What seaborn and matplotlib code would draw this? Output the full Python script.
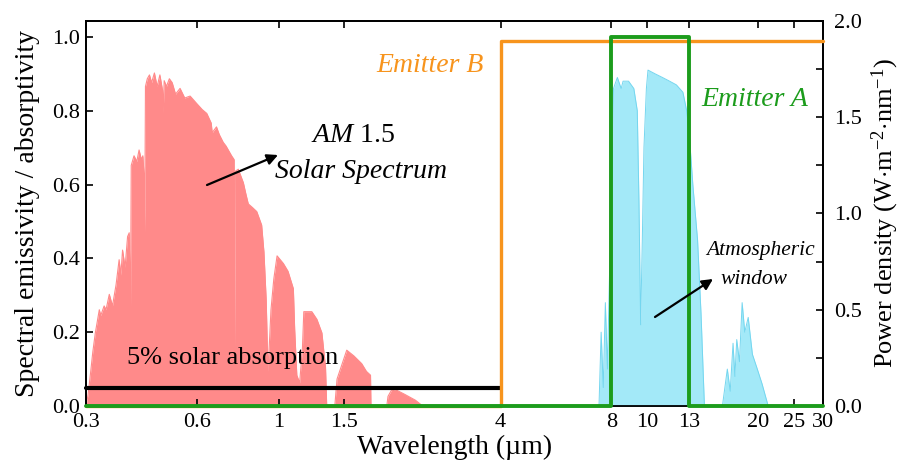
import numpy as np
import pandas as pd
import matplotlib
matplotlib.use("Agg")
import matplotlib.pyplot as plt
import seaborn as sns
from matplotlib.ticker import FixedLocator, FixedFormatter, NullLocator, MultipleLocator

# ---------------- data ----------------
# AM 1.5 solar spectrum: wavelength (um) and power density (W m^-2 nm^-1)
solar_wl = [0.300, 0.304, 0.309, 0.313, 0.318, 0.322, 0.326, 0.329, 0.336, 0.340,
            0.347, 0.354, 0.362, 0.369, 0.373, 0.377, 0.383, 0.389, 0.393, 0.396,
            0.398, 0.405, 0.412, 0.418, 0.424, 0.428, 0.431, 0.433, 0.435, 0.440,
            0.446, 0.452, 0.460, 0.468, 0.476, 0.484, 0.486, 0.489, 0.496, 0.505,
            0.514, 0.525, 0.540, 0.556, 0.575, 0.600, 0.620, 0.638, 0.656, 0.660,
            0.678, 0.690, 0.707, 0.720, 0.745, 0.757, 0.760, 0.763, 0.777, 0.802,
            0.815, 0.827, 0.850, 0.872, 0.899, 0.912, 0.925, 0.935, 0.945, 0.953,
            0.970, 0.990, 1.030, 1.060, 1.096, 1.105, 1.120, 1.140, 1.160, 1.170,
            1.230, 1.270, 1.310, 1.340, 1.350, 1.420, 1.440, 1.530, 1.600, 1.680,
            1.730, 1.775, 1.780, 1.965, 1.980, 2.030, 2.100, 2.200, 2.350, 2.460]
solar_pd = [0.00, 0.06, 0.18, 0.28, 0.38, 0.44, 0.50, 0.47, 0.52, 0.50,
            0.58, 0.52, 0.63, 0.76, 0.68, 0.81, 0.72, 0.88, 0.90, 0.43,
            1.25, 1.30, 1.27, 1.33, 1.28, 1.30, 1.20, 0.90, 1.66, 1.70,
            1.72, 1.68, 1.73, 1.66, 1.72, 1.64, 1.52, 1.69, 1.66, 1.70,
            1.68, 1.62, 1.65, 1.60, 1.61, 1.57, 1.54, 1.52, 1.47, 1.42,
            1.45, 1.41, 1.37, 1.35, 1.30, 1.28, 0.30, 1.22, 1.23, 1.16,
            1.10, 1.05, 1.03, 1.01, 0.94, 0.80, 0.55, 0.18, 0.35, 0.50,
            0.66, 0.78, 0.74, 0.70, 0.61, 0.40, 0.16, 0.12, 0.30, 0.49,
            0.49, 0.45, 0.38, 0.20, 0.00, 0.00, 0.14, 0.29, 0.26, 0.22,
            0.18, 0.16, 0.00, 0.00, 0.05, 0.087, 0.08, 0.06, 0.03, 0.00]

# Atmospheric transmittance (fraction) vs wavelength (um)
atm_wl = [7.40, 7.50, 7.60, 7.70, 7.80, 7.90, 8.00, 8.10, 8.30, 8.50, 8.60,
          8.90, 9.20, 9.40, 9.50, 9.60, 9.70, 9.80, 9.95, 10.05, 10.50, 11.00,
          11.50, 12.00, 12.50, 12.80, 13.00, 13.30, 13.70, 14.00, 14.30,
          16.00, 16.50, 16.80, 17.10, 17.30, 17.50, 17.80, 18.10, 18.40, 18.80,
          19.30, 19.90, 20.50, 21.30]
atm_tr = [0.00, 0.20, 0.05, 0.28, 0.10, 0.35, 0.50, 0.86, 0.89, 0.86, 0.88,
          0.88, 0.86, 0.80, 0.55, 0.22, 0.45, 0.70, 0.86, 0.91, 0.90, 0.89,
          0.88, 0.87, 0.85, 0.80, 0.74, 0.60, 0.45, 0.25, 0.00,
          0.00, 0.10, 0.04, 0.17, 0.08, 0.18, 0.12, 0.28, 0.20, 0.24,
          0.14, 0.10, 0.06, 0.00]

# Ideal emitters (emissivity) and 5% solar absorption level
emitterB_wl = [0.3, 4, 4, 30]
emitterB_em = [0.0, 0.0, 0.99, 0.99]
emitterA_wl = [0.3, 8, 8, 13, 13, 30]
emitterA_em = [0.0, 0.0, 1.0, 1.0, 0.0, 0.0]
absorb_wl = [0.3, 4]
absorb_val = [0.05, 0.05]

xtick_vals = [0.3, 0.6, 1, 1.5, 4, 8, 10, 13, 20, 25, 30]
xtick_labels = ["0.3", "0.6", "1", "1.5", "4", "8", "10", "13", "20", "25", "30"]
left_ticks = [0.0, 0.2, 0.4, 0.6, 0.8, 1.0]
right_ticks = [0.0, 0.5, 1.0, 1.5, 2.0]

# ---------------- style ----------------
sns.set_theme(style="ticks")
plt.rcParams['font.family'] = ['Liberation Serif', 'DejaVu Serif']
plt.rcParams['mathtext.fontset'] = 'custom'
plt.rcParams['mathtext.rm'] = 'Liberation Serif'
plt.rcParams['mathtext.it'] = 'Liberation Serif:italic'
for key in ("text.color", "axes.labelcolor", "xtick.color", "ytick.color",
            "axes.edgecolor"):
    plt.rcParams[key] = "black"

SALMON = "#ff8a8a"
CYAN = "#a3e9f8"
CYAN_EDGE = "#74d6ef"
ORANGE = "#f7941d"
GREEN = "#1c9c1c"

W, H = 903, 466
fig = plt.figure(figsize=(W / 100, H / 100), dpi=100)
L, R, T, B = 86, 823, 21, 406
ax = fig.add_axes([L / W, 1 - B / H, (R - L) / W, (B - T) / H])
ax2 = ax.twinx()
ax.set_zorder(ax2.get_zorder() + 1)
ax.patch.set_visible(False)

# solar spectrum on the right (power density) axis
solar_df = pd.DataFrame({"wl": solar_wl, "pd": solar_pd})
ax2.fill_between(solar_df["wl"], solar_df["pd"], color=SALMON, lw=0, zorder=1)
sns.lineplot(data=solar_df, x="wl", y="pd", ax=ax2, color=SALMON, lw=0.8,
             sort=False, estimator=None, zorder=2)

# atmospheric window on left axis
atm_df = pd.DataFrame({"wl": atm_wl, "tr": atm_tr})
ax.fill_between(atm_df["wl"], atm_df["tr"], color=CYAN, lw=0, zorder=1)
sns.lineplot(data=atm_df, x="wl", y="tr", ax=ax, color=CYAN_EDGE, lw=0.7,
             sort=False, estimator=None, zorder=2)

# lines
sns.lineplot(x=absorb_wl, y=absorb_val, ax=ax, color="black", lw=3.0,
             sort=False, estimator=None, zorder=3)
sns.lineplot(x=emitterB_wl, y=emitterB_em, ax=ax, color=ORANGE, lw=2.4,
             sort=False, estimator=None, zorder=4)
sns.lineplot(x=emitterA_wl, y=emitterA_em, ax=ax, color=GREEN, lw=2.8,
             sort=False, estimator=None, zorder=5)
for ln in ax.get_lines():
    ln.set_clip_on(False)

# axes
ax.set_xscale("log")
ax.set_xlim(0.3, 30)
ax.set_ylim(0, 1.043)
ax2.set_ylim(0, 2.0)
ax.xaxis.set_major_locator(FixedLocator(xtick_vals))
ax.xaxis.set_major_formatter(FixedFormatter(xtick_labels))
ax.xaxis.set_minor_locator(NullLocator())
ax.set_yticks(left_ticks)
ax.set_yticklabels([f"{v:.1f}" for v in left_ticks])
ax2.set_yticks(right_ticks)
ax2.set_yticklabels([f"{v:.1f}" for v in right_ticks])
ax2.yaxis.set_minor_locator(MultipleLocator(0.25))

ax.tick_params(axis="x", which="both", direction="in", top=True, bottom=True,
               length=5, width=1.2, labelsize=16, pad=5, colors="black")
ax.tick_params(axis="y", which="both", direction="in", left=True, right=False,
               length=5, width=1.2, labelsize=16, pad=4, colors="black")
ax2.tick_params(axis="y", which="both", direction="in", right=True, left=False,
                length=5, width=1.2, labelsize=16, pad=8, colors="black")
ax2.tick_params(axis="y", which="minor", length=5)

for a in (ax, ax2):
    for s in a.spines.values():
        s.set_linewidth(1.3)
        s.set_color("black")
        s.set_visible(True)

ax.set_xlabel("Wavelength (µm)", fontsize=20, color="black")
ax.xaxis.set_label_coords(0.5, -(447 - B) / (B - T))
ax.xaxis.label.set_va("center")
ax.set_ylabel("Spectral emissivity / absorptivity", fontsize=20, va="center",
              color="black")
ax.yaxis.set_label_coords((28 - L) / (R - L), 0.5)
ax2.set_ylabel(r"Power density (W$\cdot$m$^{\mathregular{-2}}$$\cdot$nm$^{\mathregular{-1}}$)",
               fontsize=19, va="center", rotation=90, color="black")
ax2.yaxis.set_label_coords((885 - L) / (R - L), 0.5)

def fx(x):
    return x / W

def fy(y):
    return 1 - y / H

fig.text(fx(430), fy(66), "Emitter B", color=ORANGE, fontsize=20, style="italic",
         ha="center", va="center")
fig.text(fx(755), fy(99), "Emitter A", color=GREEN, fontsize=20, style="italic",
         ha="center", va="center")
fig.text(fx(353), fy(136), r"$\mathit{AM}$ 1.5", fontsize=20, ha="center", va="center",
         color="black")
fig.text(fx(361), fy(172), "Solar Spectrum", fontsize=20, style="italic",
         ha="center", va="center", color="black")
fig.text(fx(233), fy(358), "5% solar absorption", fontsize=19, ha="center", va="center",
         color="black")
fig.text(fx(760), fy(250), "Atmospheric", fontsize=15.5, style="italic",
         ha="center", va="center", color="black")
fig.text(fx(754), fy(280), "window", fontsize=15.5, style="italic",
         ha="center", va="center", color="black")

arrowprops = dict(arrowstyle="-|>", color="black", lw=1.6, mutation_scale=16,
                  shrinkA=0, shrinkB=0, zorder=20)
fig.add_artist(matplotlib.patches.FancyArrowPatch(
    (fx(207), fy(185)), (fx(278), fy(155)), transform=fig.transFigure, **arrowprops))
fig.add_artist(matplotlib.patches.FancyArrowPatch(
    (fx(655), fy(317)), (fx(713), fy(279)), transform=fig.transFigure, **arrowprops))

fig.savefig("out.png", dpi=100)
